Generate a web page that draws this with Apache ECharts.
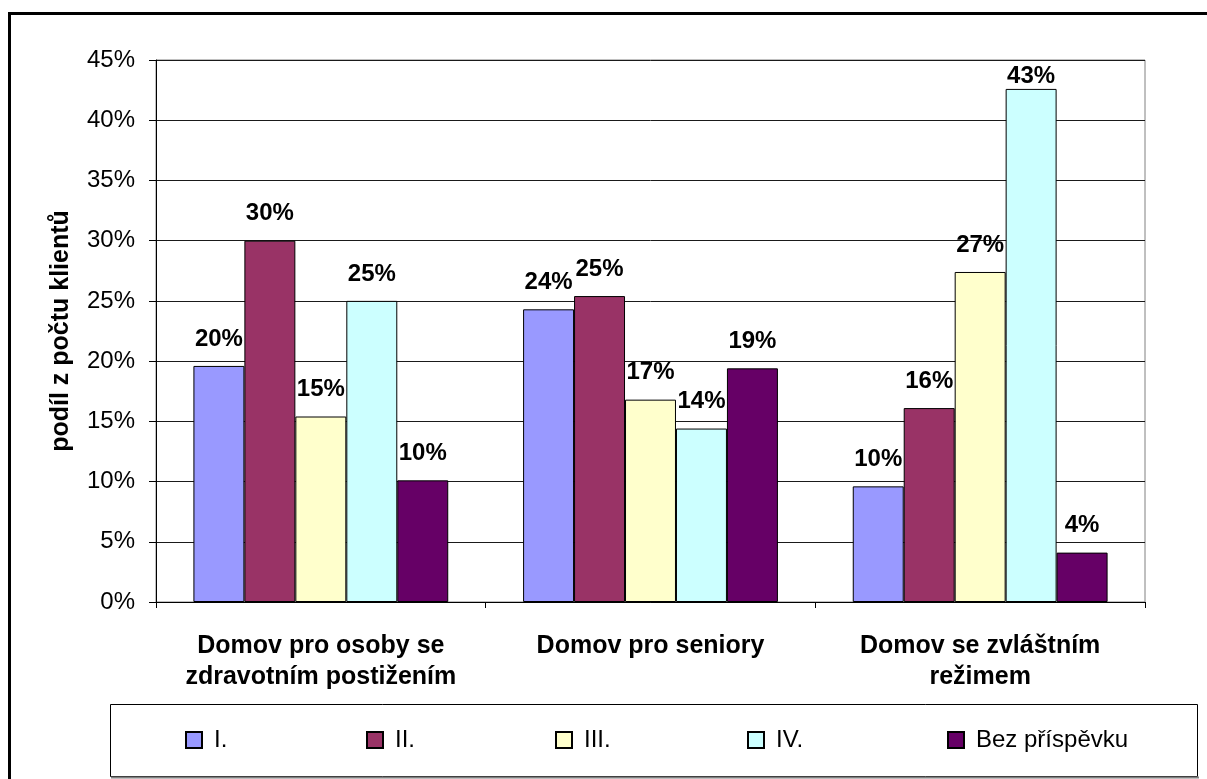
<!DOCTYPE html>
<html>
<head>
<meta charset="utf-8">
<script src="https://cdn.jsdelivr.net/npm/echarts@6/dist/echarts.min.js"></script>
<style>
  html, body { margin: 0; padding: 0; background: #fff; }
  #chart { width: 1207px; height: 779px; }
</style>
</head>
<body>
<div id="chart"></div>
<script>
// Categories of care homes
const categories = [
  'Domov pro osoby se\nzdravotním postižením',
  'Domov pro seniory',
  'Domov se zvláštním\nrežimem'
];

// Share of clients (%) by level of care allowance
const seriesNames = ['I.', 'II.', 'III.', 'IV.', 'Bez příspěvku'];
const valuesI   = [19.6, 24.3, 9.6];
const valuesII  = [30.0, 25.4, 16.1];
const valuesIII = [15.4, 16.8, 27.4];
const valuesIV  = [25.0, 14.4, 42.6];
const valuesBez = [10.1, 19.4, 4.1];

const colors = ['#9999FF', '#993366', '#FFFFCC', '#CCFFFF', '#660066'];
const seriesValues = [valuesI, valuesII, valuesIII, valuesIV, valuesBez];

const FONT = '"Liberation Sans", Arial, sans-serif';
const GRID_TOP = 60;
const LABEL_SIZE = 24;
const LABEL_DIST = 15;
const legendLefts = [185, 366, 555, 747, 947];

const chart = echarts.init(document.getElementById('chart'), null, { renderer: 'canvas' });

function makeSeries(distFor) {
  return seriesNames.map((name, i) => ({
    name: name,
    type: 'bar',
    data: seriesValues[i].map((v, j) => ({ value: v, label: { distance: distFor(i, j) } })),
    barGap: '0%',
    barCategoryGap: '22.7%',
    itemStyle: { color: colors[i], borderColor: '#000', borderWidth: 1 },
    label: {
      show: true,
      position: 'top',
      fontFamily: FONT,
      fontSize: LABEL_SIZE,
      fontWeight: 'bold',
      color: '#000',
      formatter: p => Math.round(p.value) + '%'
    }
  }));
}

const legends = seriesNames.map((name, i) => ({
  data: [name],
  left: legendLefts[i],
  top: 728,
  orient: 'horizontal',
  padding: 0,
  itemWidth: 16,
  itemHeight: 16,
  icon: 'rect',
  selectedMode: false,
  textStyle: { fontFamily: FONT, fontSize: 24, color: '#000', padding: [0, 0, 0, 7] }
}));

const option = {
  backgroundColor: '#fff',
  animation: false,
  grid: {
    left: 156, right: 62, top: GRID_TOP, bottom: 177,
    show: true, borderColor: '#808080', borderWidth: 1, backgroundColor: '#fff'
  },
  legend: legends,
  xAxis: {
    type: 'category',
    data: categories,
    axisLine: { lineStyle: { color: '#000', width: 1 } },
    axisTick: { show: true, length: 6, lineStyle: { color: '#000' } },
    axisLabel: {
      interval: 0,
      margin: 29,
      fontFamily: FONT,
      fontSize: 25,
      fontWeight: 'bold',
      color: '#000',
      lineHeight: 31
    }
  },
  yAxis: {
    type: 'value',
    min: 0,
    max: 45,
    interval: 5,
    name: 'podíl z počtu klientů',
    nameLocation: 'middle',
    nameRotate: 90,
    nameGap: 82,
    nameTextStyle: { fontFamily: FONT, fontSize: 25, fontWeight: 'bold', color: '#000' },
    axisLine: { show: true, lineStyle: { color: '#000', width: 1 } },
    axisTick: { show: true, length: 7, lineStyle: { color: '#000' } },
    splitLine: { show: true, lineStyle: { color: '#1a1a1a', width: 1 } },
    axisLabel: {
      margin: 21,
      fontFamily: FONT,
      fontSize: 24,
      color: '#000',
      formatter: '{value}%'
    }
  },
  graphic: [
    // outer chart frame
    {
      type: 'rect', silent: true, z: -1,
      shape: { x: 9.5, y: 13.5, width: 1400, height: 1000 },
      style: { fill: 'none', stroke: '#000', lineWidth: 3 }
    },
    // legend box
    {
      type: 'rect', silent: true, z: -1,
      shape: { x: 110.5, y: 704.5, width: 1087, height: 72 },
      style: { fill: '#fff', stroke: '#000', lineWidth: 1 }
    },
    {
      type: 'line', silent: true, z: -1,
      shape: { x1: 111, y1: 777.5, x2: 1199, y2: 777.5 },
      style: { stroke: '#808080', lineWidth: 2 }
    }
  ],
  series: makeSeries(() => LABEL_DIST)
};

chart.setOption(option);

// Pull value labels down where they would rise above the plot area
const minTop = GRID_TOP + 4;
chart.setOption({
  series: makeSeries((i, j) => {
    const barTop = chart.convertToPixel({ yAxisIndex: 0 }, seriesValues[i][j]);
    const room = barTop - LABEL_SIZE - minTop;
    return Math.max(0, Math.min(LABEL_DIST, room));
  })
});
</script>
</body>
</html>
